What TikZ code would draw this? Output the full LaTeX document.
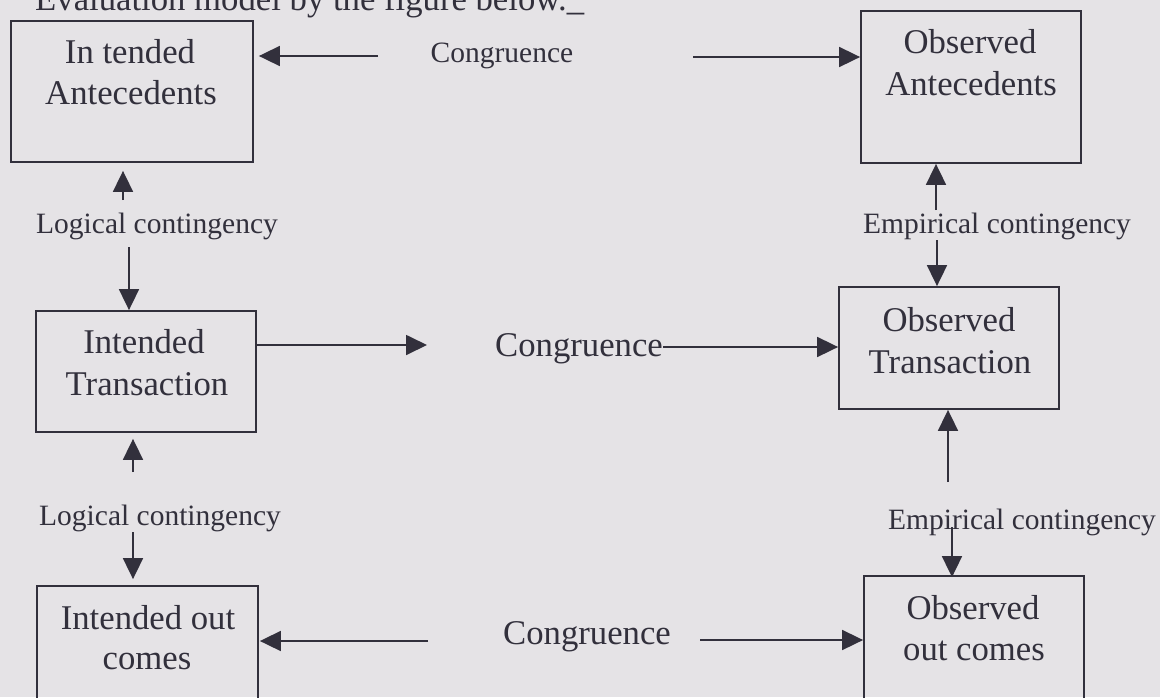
\documentclass[tikz,border=0pt]{standalone}
\usepackage{fontspec}
\setmainfont{Liberation Serif}
\usetikzlibrary{arrows.meta}
\definecolor{paper}{RGB}{229,227,230}
\definecolor{ink}{RGB}{50,48,60}
\tikzset{
  box/.style={draw=ink, line width=1.8pt, inner sep=0pt},
  big/.style={text=ink, inner sep=0pt, anchor=base, font=\fontsize{34.7}{42}\selectfont},
  small/.style={text=ink, inner sep=0pt, anchor=base, font=\fontsize{29.5}{35}\selectfont},
  arr/.style={draw=ink, line width=1.8pt, -{Triangle[length=21pt,width=20pt]}},
}
\begin{document}
\begin{tikzpicture}[x=1pt,y=-1pt]
\clip (0,0) rectangle (1160,697);
\fill[paper] (0,0) rectangle (1160,697);

% header (cut at top)
\node[big, anchor=base west] (hdr) at (35,10) {Evaluation model by the figure below.\_};

% boxes
\node[box, minimum width=242pt, minimum height=141pt] (B1) at (132,91.5) {};
\node[box, minimum width=220pt, minimum height=121pt] (B2) at (146,371.5) {};
\node[box, minimum width=221pt, minimum height=134pt] (B3) at (147.5,653) {};
\node[box, minimum width=220pt, minimum height=152pt] (B4) at (971,87) {};
\node[box, minimum width=220pt, minimum height=122pt] (B5) at (949,348) {};
\node[box, minimum width=220pt, minimum height=144pt] (B6) at (974,648) {};

% box texts
\node[big] (B1a) at (130,63) {In tended};
\node[big] (B1b) at (131,104) {Antecedents};
\node[big] (B2a) at (144,353) {Intended};
\node[big] (B2b) at (147,395) {Transaction};
\node[big] (B3a) at (148,629) {Intended out};
\node[big] (B3b) at (147,669) {comes};
\node[big] (B4a) at (970,53) {Observed};
\node[big] (B4b) at (971,95) {Antecedents};
\node[big] (B5a) at (949,331) {Observed};
\node[big] (B5b) at (950,373) {Transaction};
\node[big] (B6a) at (973,619) {Observed};
\node[big] (B6b) at (974,660) {out comes};

% labels
\node[small] (cg1) at (502,62) {Congruence};
\node[big] (cg2) at (579,356) {Congruence};
\node[big] (cg3) at (587,644) {Congruence};
\node[small] (lc1) at (157,233) {Logical contingency};
\node[small] (lc2) at (160,525) {Logical contingency};
\node[small] (ec1) at (997,233) {Empirical contingency};
\node[small] (ec2) at (1022,529) {Empirical contingency};

% free ends
\coordinate (t1) at (378,56);
\coordinate (t2) at (693,57);
\coordinate (t3) at (427,345);
\coordinate (t4) at (428,641);
\coordinate (t5) at (700,640);
\coordinate (u1) at (123,200);
\coordinate (u2) at (129,247);
\coordinate (u3) at (133,472);
\coordinate (u4) at (133,532);
\coordinate (v1) at (936,210);
\coordinate (v2) at (937,240);
\coordinate (v3) at (948,482);
\coordinate (v4) at (952,527);

% horizontal connectors
\draw[arr] (t1) -- ([xshift=5pt]t1 -| B1.east);
\draw[arr] (t2) -- (t2 -| B4.west);
\draw[arr] (t3 -| B2.east) -- (t3);
\draw[arr] (cg2.east |- 0,347) -- (B5.west |- 0,347);
\draw[arr] (t4) -- ([xshift=1pt]t4 -| B3.east);
\draw[arr] (t5) -- (t5 -| B6.west);

% vertical connectors
\draw[arr] (u1) -- ([yshift=-8pt]u1 |- B1.south);
\draw[arr] (u2) -- (u2 |- B2.north);
\draw[arr] (u3) -- ([yshift=-6pt]u3 |- B2.south);
\draw[arr] (u4) -- ([yshift=6pt]u4 |- B3.north);
\draw[arr] (v1) -- (v1 |- B4.south);
\draw[arr] (v2) -- (v2 |- B5.north);
\draw[arr] (v3) -- (v3 |- B5.south);
\draw[arr] (v4) -- ([yshift=-2pt]v4 |- B6.north);
\end{tikzpicture}
\end{document}
